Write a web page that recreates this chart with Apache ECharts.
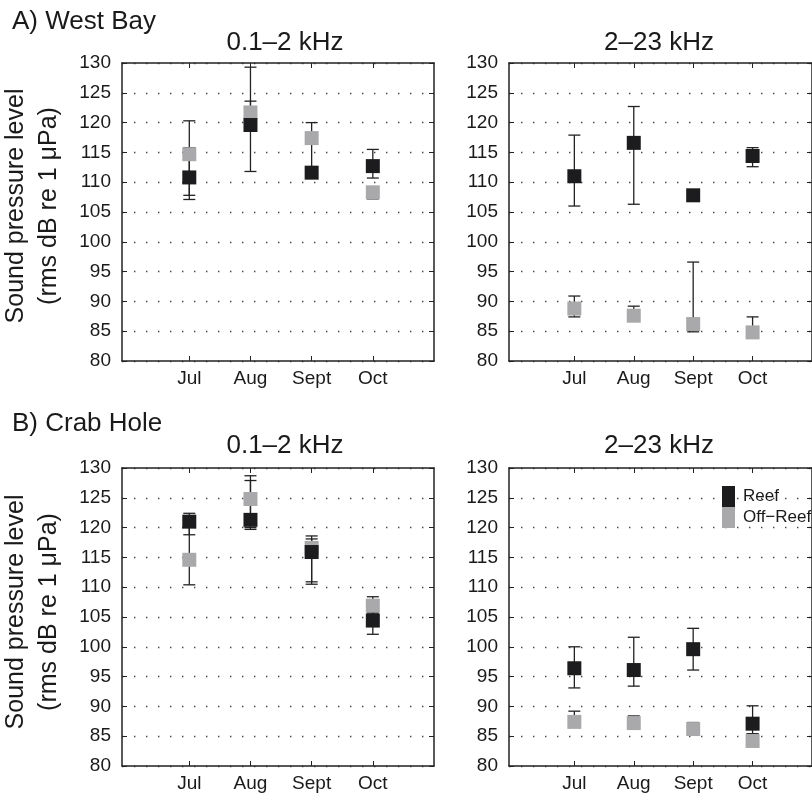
<!DOCTYPE html>
<html lang="en">
<head>
    <meta charset="UTF-8">
    <title>Sound pressure level by month</title>
    <script src="https://cdn.jsdelivr.net/npm/echarts@6.0.0/dist/echarts.min.js"></script>
    <style>
        html, body { margin: 0; padding: 0; background: #fff; }
        #chart { width: 812px; height: 793px; }
    </style>
</head>
<body>
    <div id="chart"></div>
    <script>
        // months on the x axis
        const months = ["Jul", "Aug", "Sept", "Oct"];
        const yTicks = [80, 130, 5];

        // A) West Bay, 0.1-2 kHz
        const westLowReef = [110.8, 119.6, 111.6, 112.7];
        const westLowReefLo = [107.1, 111.8, 110.9, 110.7];
        const westLowReefHi = [120.3, 129.3, 120.0, 115.5];
        const westLowOff = [114.7, 121.7, 117.4, 108.3];
        const westLowOffLo = [107.8, 120.5, 116.8, 107.2];
        const westLowOffHi = [115.8, 123.6, 118.0, 109.1];

        // A) West Bay, 2-23 kHz
        const westHighReef = [111.0, 116.6, 107.8, 114.4];
        const westHighReefLo = [106.0, 106.3, 107.2, 112.6];
        const westHighReefHi = [117.9, 122.7, 108.4, 115.8];
        const westHighOff = [88.8, 87.6, 86.2, 84.8];
        const westHighOffLo = [87.4, 87.0, 84.9, 84.2];
        const westHighOffHi = [90.9, 89.2, 96.6, 87.4];

        // B) Crab Hole, 0.1-2 kHz
        const crabLowReef = [121.0, 121.3, 115.9, 104.4];
        const crabLowReefLo = [118.8, 119.7, 110.5, 102.1];
        const crabLowReefHi = [122.4, 127.9, 118.1, 105.7];
        const crabLowOff = [114.6, 124.8, 116.6, 106.9];
        const crabLowOffLo = [110.4, 120.0, 110.9, 105.5];
        const crabLowOffHi = [121.5, 128.7, 118.6, 108.4];

        // B) Crab Hole, 2-23 kHz
        const crabHighReef = [96.4, 96.1, 99.6, 87.1];
        const crabHighReefLo = [93.1, 93.4, 96.1, 85.4];
        const crabHighReefHi = [100.0, 101.6, 103.1, 90.1];
        const crabHighOff = [87.4, 87.2, 86.2, 84.2];
        const crabHighOffLo = [86.6, 86.5, 85.6, 83.6];
        const crabHighOffHi = [89.2, 88.4, 87.3, 85.4];

        const FONT = "Liberation Sans";
        const INK = "#1a1a1a";
        const REEF = "#1c1c1e";
        const OFF = "#a9a9ab";

        const panels = [
            { grid: { left: 122, top: 63, width: 312, height: 298 },
              reef: [westLowReef, westLowReefLo, westLowReefHi], off: [westLowOff, westLowOffLo, westLowOffHi] },
            { grid: { left: 509, top: 63, width: 314, height: 298 },
              reef: [westHighReef, westHighReefLo, westHighReefHi], off: [westHighOff, westHighOffLo, westHighOffHi] },
            { grid: { left: 122, top: 468, width: 312, height: 298 },
              reef: [crabLowReef, crabLowReefLo, crabLowReefHi], off: [crabLowOff, crabLowOffLo, crabLowOffHi] },
            { grid: { left: 509, top: 468, width: 314, height: 298 },
              reef: [crabHighReef, crabHighReefLo, crabHighReefHi], off: [crabHighOff, crabHighOffLo, crabHighOffHi] }
        ];

        const monthPos = months.map((m, i) => i + 1);

        function errorBar(params, api) {
            const x = api.value(0);
            const lo = api.coord([x, api.value(1)]);
            const hi = api.coord([x, api.value(2)]);
            const w = 6;
            const style = { stroke: "#222", lineWidth: 1.3 };
            return {
                type: "group",
                children: [
                    { type: "line", shape: { x1: lo[0], y1: lo[1], x2: hi[0], y2: hi[1] }, style: style },
                    { type: "line", shape: { x1: lo[0] - w, y1: lo[1], x2: lo[0] + w, y2: lo[1] }, style: style },
                    { type: "line", shape: { x1: hi[0] - w, y1: hi[1], x2: hi[0] + w, y2: hi[1] }, style: style }
                ]
            };
        }

        const grids = [], xAxes = [], yAxes = [], series = [];
        const lineStyle = { color: "#222", width: 1.5 };

        panels.forEach(function (p, k) {
            grids.push(Object.assign({ show: false }, p.grid));
            // bottom + top x axes
            [false, true].forEach(function (top) {
                xAxes.push({
                    type: "value", gridIndex: k, min: -0.1, max: 5,
                    position: top ? "top" : "bottom",
                    axisLine: { show: true, onZero: false, lineStyle: lineStyle },
                    axisTick: { show: true, inside: true, length: 5, customValues: monthPos, lineStyle: { color: "#222" } },
                    axisLabel: {
                        show: !top, customValues: monthPos, margin: 8,
                        fontFamily: FONT, fontSize: 19, color: INK,
                        formatter: function (v) { return months[Math.round(v) - 1]; }
                    },
                    splitLine: { show: false }
                });
            });
            // left + right y axes
            [false, true].forEach(function (right) {
                yAxes.push({
                    type: "value", gridIndex: k, min: yTicks[0], max: yTicks[1], interval: yTicks[2],
                    position: right ? "right" : "left",
                    axisLine: { show: true, onZero: false, lineStyle: lineStyle },
                    axisTick: { show: true, inside: true, length: 5, lineStyle: { color: "#222" } },
                    axisLabel: { show: !right, margin: 11, fontFamily: FONT, fontSize: 19, color: INK },
                    splitLine: {
                        show: !right,
                        lineStyle: { color: "#444", width: 1.4, type: [1.4, 10.6] }
                    }
                });
            });

            const order = [["Off\u2212Reef", OFF, p.off], ["Reef", REEF, p.reef]];
            order.forEach(function (s) {
                const vals = s[2];
                series.push({
                    type: "custom", name: s[0] + " err",
                    xAxisIndex: 2 * k, yAxisIndex: 2 * k,
                    renderItem: errorBar,
                    encode: { x: 0, y: [1, 2] },
                    data: months.map((m, i) => [i + 1, vals[1][i], vals[2][i]]),
                    silent: true, z: 3
                });
                series.push({
                    type: "scatter", name: s[0],
                    xAxisIndex: 2 * k, yAxisIndex: 2 * k,
                    symbol: "rect", symbolSize: 14,
                    itemStyle: { color: s[1], opacity: 1 },
                    data: months.map((m, i) => [i + 1, vals[0][i]]),
                    z: 4
                });
            });
        });

        function label(text, x, y, size, align) {
            return {
                type: "text", x: x, y: y, silent: true,
                style: { text: text, fontFamily: FONT, fontSize: size, fill: INK, textAlign: align || "center", textVerticalAlign: "middle" }
            };
        }

        const yName = "Sound pressure level\n(rms dB re 1 \u03bcPa)";

        const option = {
            animation: false,
            backgroundColor: "#fff",
            grid: grids,
            xAxis: xAxes,
            yAxis: yAxes,
            legend: {
                orient: "vertical", left: 717, top: 481,
                itemWidth: 13, itemHeight: 21, itemGap: 0,
                selectedMode: false,
                textStyle: { fontFamily: FONT, fontSize: 17, color: INK, padding: [0, 0, 0, 3] },
                data: [{ name: "Reef", icon: "rect" }, { name: "Off\u2212Reef", icon: "rect" }]
            },
            graphic: [
                label("A) West Bay", 12, 22, 26, "left"),
                label("0.1\u20132 kHz", 285, 43, 26),
                label("2\u201323 kHz", 659, 43, 26),
                label("B) Crab Hole", 12, 424, 26, "left"),
                label("0.1\u20132 kHz", 285, 446, 26),
                label("2\u201323 kHz", 659, 446, 26),
                {
                    type: "text", x: 33, y: 206, rotation: Math.PI / 2, silent: true,
                    style: { text: yName, fontFamily: FONT, fontSize: 25, lineHeight: 33, fill: INK, textAlign: "center", textVerticalAlign: "middle" }
                },
                {
                    type: "text", x: 33, y: 612, rotation: Math.PI / 2, silent: true,
                    style: { text: yName, fontFamily: FONT, fontSize: 25, lineHeight: 33, fill: INK, textAlign: "center", textVerticalAlign: "middle" }
                }
            ],
            series: series
        };

        const myChart = echarts.init(document.getElementById("chart"));
        myChart.setOption(option);
    </script>
</body>
</html>
